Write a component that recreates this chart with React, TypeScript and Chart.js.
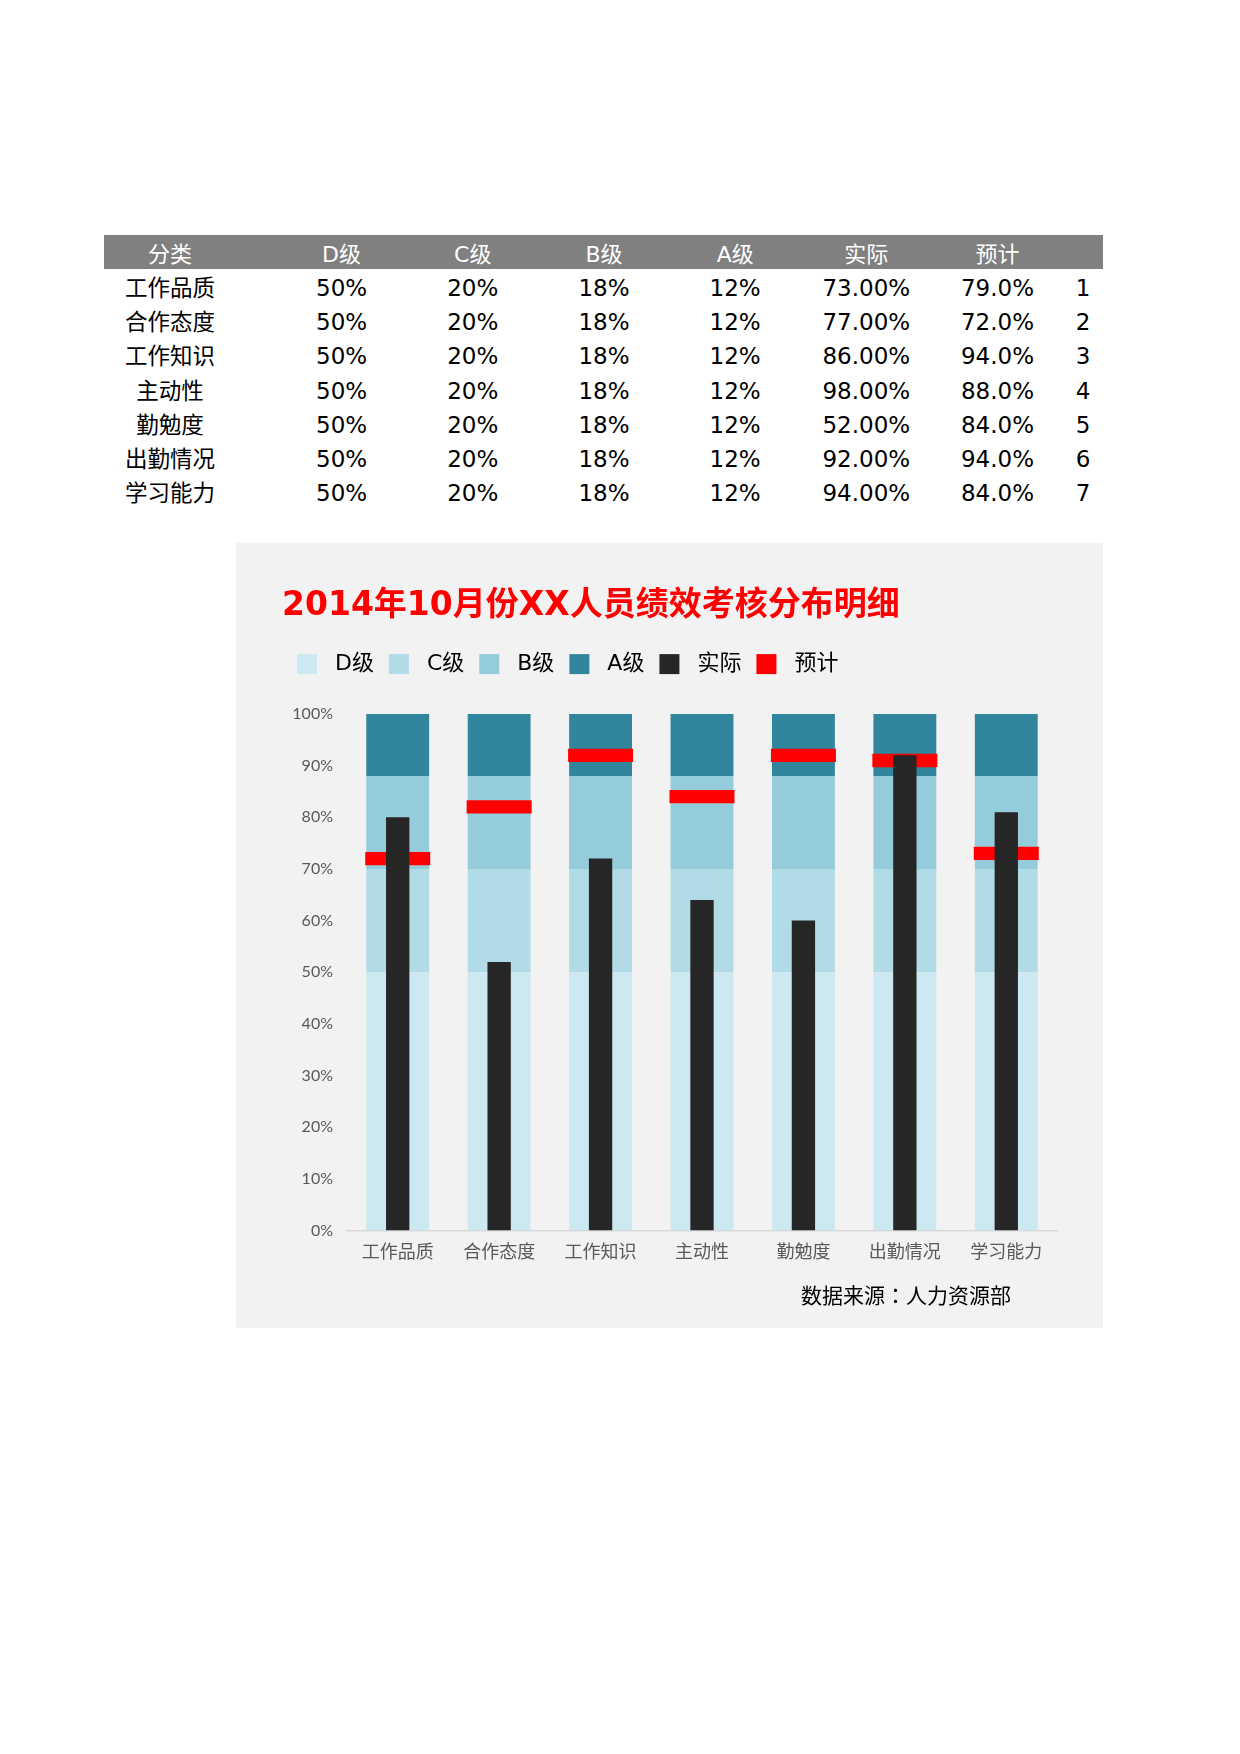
import React, { useEffect, useRef } from "react";
import { Chart, registerables } from "chart.js";

Chart.register(...registerables);

// ---------- data ----------
const CATEGORIES = ["工作品质", "合作态度", "工作知识", "主动性", "勤勉度", "出勤情况", "学习能力"];
const D_LEVEL = [50, 50, 50, 50, 50, 50, 50];
const C_LEVEL = [20, 20, 20, 20, 20, 20, 20];
const B_LEVEL = [18, 18, 18, 18, 18, 18, 18];
const A_LEVEL = [12, 12, 12, 12, 12, 12, 12];
const ACTUAL = [80, 52, 72, 64, 60, 92, 81];
const TARGET = [72, 82, 92, 84, 92, 91, 73];
const Y_TICKS_STEP = 10;

const TABLE_HEADERS = ["分类", "D级", "C级", "B级", "A级", "实际", "预计"];
const TABLE_ACTUAL = ["73.00%", "77.00%", "86.00%", "98.00%", "52.00%", "92.00%", "94.00%"];
const TABLE_TARGET = ["79.0%", "72.0%", "94.0%", "88.0%", "84.0%", "94.0%", "84.0%"];
const ROW_NUMBERS = ["1", "2", "3", "4", "5", "6", "7"];

const TITLE = "2014年10月份XX人员绩效考核分布明细";
const SOURCE = "数据来源：人力资源部";
const SERIES_LABELS = ["D级", "C级", "B级", "A级", "实际", "预计"];

// ---------- styles ----------
const COLORS = {
  d: "#CCE8F0",
  c: "#B1DBE7",
  b: "#94CCDC",
  a: "#31869D",
  actual: "#262626",
  target: "#FF0000",
};
const FONT_MAIN = "'DejaVu Sans', 'Noto Sans CJK SC', sans-serif";
const FONT_CJK = "'Noto Sans CJK SC', sans-serif";
const COL_WIDTHS = [132, 40, 131.2, 131.2, 131.2, 131.2, 131.2, 131.2, 40];

function ChartPanel() {
  const ref = useRef<HTMLCanvasElement | null>(null);
  useEffect(() => {
    if (!ref.current) return;
    const rangeCommon = {
      type: "bar" as const,
      stack: "range",
      categoryPercentage: 1,
      barPercentage: 0.62,
      borderWidth: 0,
      order: 2,
    };
    const chart = new Chart(ref.current, {
      type: "bar",
      data: {
        labels: CATEGORIES,
        datasets: [
          { ...rangeCommon, label: SERIES_LABELS[0], data: D_LEVEL, backgroundColor: COLORS.d },
          { ...rangeCommon, label: SERIES_LABELS[1], data: C_LEVEL, backgroundColor: COLORS.c },
          { ...rangeCommon, label: SERIES_LABELS[2], data: B_LEVEL, backgroundColor: COLORS.b },
          { ...rangeCommon, label: SERIES_LABELS[3], data: A_LEVEL, backgroundColor: COLORS.a },
          {
            type: "bar",
            label: SERIES_LABELS[4],
            data: ACTUAL,
            backgroundColor: COLORS.actual,
            stack: "actual",
            grouped: false,
            categoryPercentage: 1,
            barPercentage: 0.23,
            borderWidth: 0,
            order: 0,
          } as any,
          {
            type: "line",
            label: SERIES_LABELS[5],
            data: TARGET,
            stack: "target",
            showLine: false,
            pointStyle: "line",
            pointRadius: 32.5,
            pointHoverRadius: 32.5,
            pointBorderWidth: 13.3,
            pointHoverBorderWidth: 13.3,
            pointBorderColor: COLORS.target,
            pointBackgroundColor: COLORS.target,
            backgroundColor: COLORS.target,
            borderColor: COLORS.target,
            borderWidth: 0,
            order: 1,
          } as any,
        ],
      },
      options: {
        animation: false,
        responsive: false,
        events: [],
        layout: { padding: { left: 46, right: 46, top: 0, bottom: 57.5 } },
        plugins: {
          title: {
            display: true,
            text: TITLE,
            align: "start",
            color: COLORS.target,
            font: { family: FONT_MAIN, size: 33, weight: "bold" },
            padding: { top: 43.5, bottom: 12 },
          },
          subtitle: {
            display: true,
            text: "",
            position: "top",
            weight: 500,
            font: { size: 1 },
            padding: { top: 0, bottom: 27.7 },
          } as any,
          legend: {
            display: true,
            position: "top",
            align: "start",
            labels: {
              boxWidth: 20,
              boxHeight: 20,
              padding: 15,
              color: "#000000",
              font: { family: FONT_MAIN, size: 22 },
              sort: (a: any, b: any) => a.datasetIndex - b.datasetIndex,
              generateLabels: (c: any) =>
                (Chart.defaults.plugins.legend.labels.generateLabels as any)(c).map((l: any) => ({
                  ...l,
                  text: " " + l.text,
                })),
            },
          },
          tooltip: { enabled: false },
        },
        scales: {
          x: {
            stacked: true,
            grid: { display: false, drawTicks: false },
            border: { display: true, color: "#D9D9D9", width: 1.5 },
            ticks: { color: "#595959", font: { family: FONT_CJK, size: 18 }, padding: 10 },
            afterFit: (s: any) => {
              s.height = 40;
            },
          },
          y: {
            stacked: true,
            min: 0,
            max: 100,
            grid: { display: false, drawTicks: false },
            border: { display: false },
            ticks: {
              stepSize: Y_TICKS_STEP,
              color: "#595959",
              font: { family: "Lato", size: 16 },
              padding: 14,
              callback: (v: any) => v + "%",
            },
            afterFit: (s: any) => {
              s.width = 65;
            },
          },
        },
      } as any,
    });
    return () => chart.destroy();
  }, []);

  return (
    <div
      style={{
        position: "absolute",
        left: 236,
        top: 543,
        width: 867,
        height: 785,
        background: "#F2F2F2",
      }}
    >
      <canvas ref={ref} width={867} height={785} style={{ width: 867, height: 785, display: "block" }} />
      <div
        style={{
          position: "absolute",
          left: 475,
          top: 739,
          width: 300,
          textAlign: "right",
          fontFamily: "'Noto Sans CJK JP', 'Noto Sans CJK SC', sans-serif",
          fontSize: 21,
          lineHeight: "24px",
          color: "#000000",
        }}
      >
        {SOURCE}
      </div>
    </div>
  );
}

function DataTable() {
  const cell = (content: string, i: number, extra: React.CSSProperties = {}) => (
    <div key={i} style={{ width: COL_WIDTHS[i], flex: "none", textAlign: "center", ...extra }}>
      {content}
    </div>
  );
  return (
    <div style={{ position: "absolute", left: 104, top: 235, width: 999 }}>
      <div
        style={{
          display: "flex",
          height: 34,
          lineHeight: "39px",
          background: "#808080",
          color: "#FFFFFF",
          fontFamily: FONT_MAIN,
          fontSize: 22,
          overflow: "visible",
        }}
      >
        {cell(TABLE_HEADERS[0], 0)}
        {cell("", 1)}
        {TABLE_HEADERS.slice(1).map((h, k) => cell(h, k + 2))}
        {cell("", 8)}
      </div>
      <div style={{ paddingTop: 2 }}>
        {CATEGORIES.map((cat, r) => (
          <div
            key={cat}
            style={{
              display: "flex",
              height: 34.2,
              lineHeight: "34.2px",
              fontFamily: FONT_MAIN,
              fontSize: 23,
              color: "#000000",
            }}
          >
            {cell(cat, 0, { fontSize: 22.5 })}
            {cell("", 1)}
            {cell(D_LEVEL[r] + "%", 2)}
            {cell(C_LEVEL[r] + "%", 3)}
            {cell(B_LEVEL[r] + "%", 4)}
            {cell(A_LEVEL[r] + "%", 5)}
            {cell(TABLE_ACTUAL[r], 6)}
            {cell(TABLE_TARGET[r], 7)}
            {cell(ROW_NUMBERS[r], 8)}
          </div>
        ))}
      </div>
    </div>
  );
}

export default function App() {
  return (
    <div
      style={{
        position: "absolute",
        left: 0,
        top: 0,
        width: 1240,
        height: 1754,
        background: "#FFFFFF",
        overflow: "hidden",
      }}
    >
      <DataTable />
      <ChartPanel />
    </div>
  );
}
